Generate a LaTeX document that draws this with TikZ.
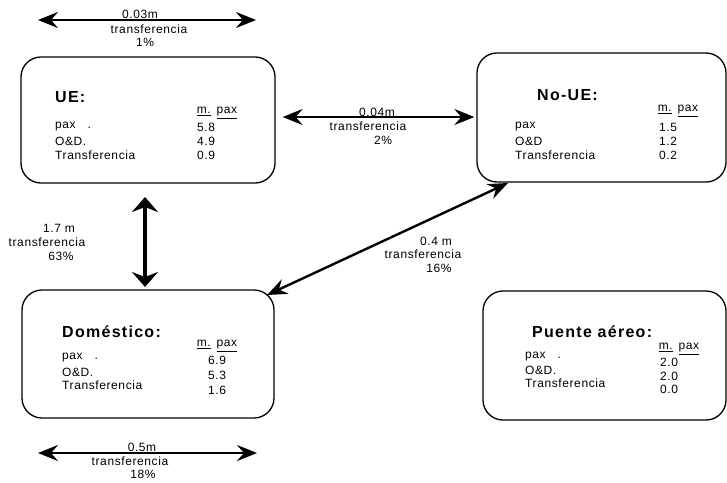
\documentclass[tikz,border=0pt]{standalone}
\usepackage{fontspec}
\setmainfont{Liberation Sans}
\newfontfamily\espaciada[LetterSpace=5]{Liberation Sans}
\newfontfamily\espaciadat[LetterSpace=8]{Liberation Sans}
\usetikzlibrary{arrows.meta,calc}

\tikzset{
  caja/.style={draw, line width=1.3pt, rounded corners=20pt, inner sep=0pt},
  titulo/.style={font=\espaciadat\fontsize{16}{16}\selectfont\bfseries, anchor=west, inner sep=0pt},
  dato/.style={font=\espaciada\fontsize{12}{12}\selectfont, inner sep=0pt},
  flecha/.style={{Stealth[length=20pt,width=16pt,inset=7pt]}-{Stealth[length=20pt,width=16pt,inset=7pt]}, line width=2.4pt},
  flechagruesa/.style={{Stealth[length=15pt,width=26pt,inset=5pt]}-{Stealth[length=15pt,width=26pt,inset=5pt]}, line width=4pt}
}

\begin{document}
\begin{tikzpicture}[x=1pt,y=-1pt]
\useasboundingbox[fill=white] (0,0) rectangle (727,482);

% cajas
\node[caja, minimum width=254pt, minimum height=126pt] (ue) at (148,120) {};
\node[caja, minimum width=249pt, minimum height=129pt] (noue) at (601.5,117.5) {};
\node[caja, minimum width=252pt, minimum height=128pt] (dom) at (148,354) {};
\node[caja, minimum width=243pt, minimum height=129pt] (puente) at (604.5,355.5) {};

% UE
\node[titulo] (ue-t) at (55,97) {UE:};
\node[dato] (ue-h) at (217,113) {\underline{m.}\enspace\underline{pax}};
\foreach \etq/\y/\val in {pax\quad./127/5.8, O\&D./141/4.9, Transferencia/155/0.9}{
  \node[dato, anchor=west] (ue-e\y) at (55,\y) {\etq};
  \node[dato] (ue-v\y) at (206,\y) {\val};
}

% No-UE
\node[titulo] (noue-t) at (537,95) {No-UE:};
\node[dato] (noue-h) at (678,111) {\underline{m.}\enspace\underline{pax}};
\foreach \etq/\y/\val in {pax/127/1.5, O\&D/141/1.2, Transferencia/155/0.2}{
  \node[dato, anchor=west] (noue-e\y) at (515,\y) {\etq};
  \node[dato] (noue-v\y) at (668,\y) {\val};
}

% Domestico
\node[titulo] (dom-t) at (62,332) {Doméstico:};
\node[dato] (dom-h) at (217,346) {\underline{m.}\enspace\underline{pax}};
\foreach \etq/\y/\val/\yv in {pax\quad./358/6.9/360, O\&D./372/5.3/375, Transferencia/385/1.6/390}{
  \node[dato, anchor=west] (dom-e\y) at (62,\y) {\etq};
  \node[dato] (dom-v\y) at (217,\yv) {\val};
}

% Puente aereo
\node[titulo] (puente-t) at (532,332) {Puente aéreo:};
\node[dato] (puente-h) at (679,349) {\underline{m.}\enspace\underline{pax}};
\foreach \etq/\y/\val/\yv in {pax\quad./357/2.0/362, O\&D./370/2.0/376, Transferencia/383/0.0/389}{
  \node[dato, anchor=west] (puente-e\y) at (525,\y) {\etq};
  \node[dato] (puente-v\y) at (669,\yv) {\val};
}

% flechas
\coordinate (a1) at (38,20);
\coordinate (a2) at (256,20);
\draw[flecha] (a1) -- (a2);
\node[dato] (a-m) at (140,14) {0.03m};
\node[dato] (a-t) at (149,29) {transferencia};
\node[dato] (a-p) at (145,42) {1\%};

\draw[flecha, shorten <=7pt, shorten >=2pt] (ue.east |- 0,117) -- (noue.west |- 0,117);
\node[dato] (b-m) at (377,112) {0.04m};
\node[dato] (b-t) at (368,126) {transferencia};
\node[dato] (b-p) at (383,140) {2\%};

\draw[flechagruesa, shorten <=14pt, shorten >=3pt] (145,183) -- (145,290);
\node[dato] (c-m) at (59,228) {1.7 m};
\node[dato] (c-t) at (47,242) {transferencia};
\node[dato] (c-p) at (61,256) {63\%};

\coordinate (d1) at (267,295);
\coordinate (d2) at (508,183);
\draw[flecha] (d1) -- (d2);
\node[dato] (d-m) at (436,241) {0.4 m};
\node[dato] (d-t) at (423,254) {transferencia};
\node[dato] (d-p) at (439,268) {16\%};

\coordinate (e1) at (38,453);
\coordinate (e2) at (257,453);
\draw[flecha] (e1) -- (e2);
\node[dato] (e-m) at (142,447) {0.5m};
\node[dato] (e-t) at (130,461) {transferencia};
\node[dato] (e-p) at (143,474) {18\%};
\end{tikzpicture}
\end{document}
